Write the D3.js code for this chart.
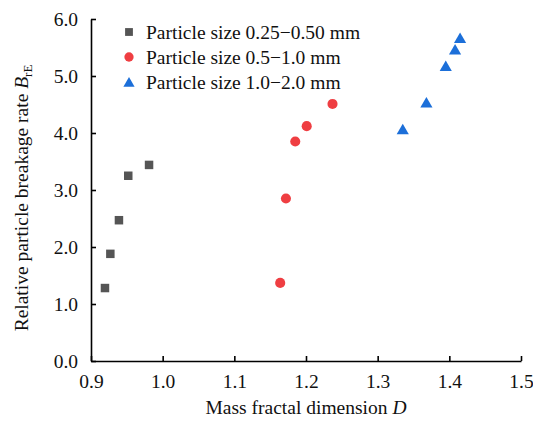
<!DOCTYPE html>
<html><head><meta charset="utf-8">
<script src="https://cdn.jsdelivr.net/npm/d3@7"></script>
<style>body{margin:0;background:#fff}svg{display:block}text{font-family:"Liberation Serif","Times New Roman",Times,serif;fill:#111}</style>
</head><body><svg id="c" width="533" height="428"></svg>
<script>
const seriesNames = ["Particle size 0.25\u22120.50 mm","Particle size 0.5\u22121.0 mm","Particle size 1.0\u22122.0 mm"];
const smallX = [0.9195,0.927,0.939,0.952,0.981];
const smallY = [1.28,1.88,2.47,3.25,3.44];
const midX = [1.164,1.172,1.185,1.201,1.237];
const midY = [1.37,2.85,3.85,4.12,4.51];
const largeX = [1.335,1.368,1.395,1.408,1.415];
const largeY = [4.04,4.51,5.15,5.44,5.64];
const xTicks = [0.9,1.0,1.1,1.2,1.3,1.4,1.5];
const yTicks = [0,1,2,3,4,5,6];

const svg = d3.select("#c");
const FS = 19.5;
const x = d3.scaleLinear().domain([0.9,1.5]).range([91,521]);
const y = d3.scaleLinear().domain([0,6]).range([361,19]);

const xa = svg.append("g").attr("transform","translate(0,361)")
  .call(d3.axisBottom(x).tickValues(xTicks).tickSizeInner(-5).tickSizeOuter(0).tickPadding(12).tickFormat(d3.format(".1f")));
const ya = svg.append("g").attr("transform","translate(91,0)")
  .call(d3.axisLeft(y).tickValues(yTicks).tickSizeInner(-5).tickSizeOuter(0).tickPadding(13).tickFormat(d3.format(".1f")));
[xa,ya].forEach(a=>{
  a.attr("font-family",null).attr("font-size",null);
  a.selectAll("path").attr("stroke","#000").attr("stroke-width",1.6);
  a.selectAll("line").attr("stroke","#000").attr("stroke-width",1.6);
  a.selectAll("text").attr("font-size",FS).attr("fill","#111");
});
xa.selectAll(".tick text").attr("dy","0.75em");

const series = [
  {name:seriesNames[0], xs:smallX, ys:smallY, sym:d3.symbolSquare, size:72, color:"#555555"},
  {name:seriesNames[1], xs:midX, ys:midY, sym:d3.symbolCircle, size:80, color:"#EF3E42"},
  {name:seriesNames[2], xs:largeX, ys:largeY, sym:d3.symbolTriangle, size:64, color:"#1C6FD9"}
];
series.forEach(s=>{
  svg.append("g").selectAll("path").data(s.xs.map((v,i)=>[v,s.ys[i]])).join("path")
    .attr("d", d3.symbol().type(s.sym).size(s.size))
    .attr("transform", d=>`translate(${x(d[0])},${y(d[1])})`)
    .attr("fill", s.color);
});

const lg = svg.append("g");
series.forEach((s,i)=>{
  const yy = 32 + i*25;
  lg.append("path").attr("d", d3.symbol().type(s.sym).size(s.size*0.85)).attr("transform",`translate(129,${yy + (i===2?1.5:0)})`).attr("fill",s.color);
  lg.append("text").attr("x",146).attr("y",yy).attr("dy","0.35em").attr("font-size",FS).text(s.name);
});

const xt = svg.append("text").attr("x",306).attr("y",414).attr("text-anchor","middle").attr("font-size",FS);
xt.append("tspan").text("Mass fractal dimension ");
xt.append("tspan").attr("font-style","italic").text("D");

const yt = svg.append("text").attr("transform","translate(28,198) rotate(-90)").attr("text-anchor","middle").attr("font-size",FS);
yt.append("tspan").text("Relative particle breakage rate ");
yt.append("tspan").attr("font-style","italic").text("B");
yt.append("tspan").attr("font-size",13).attr("dy",4).text("rE");
</script></body></html>
